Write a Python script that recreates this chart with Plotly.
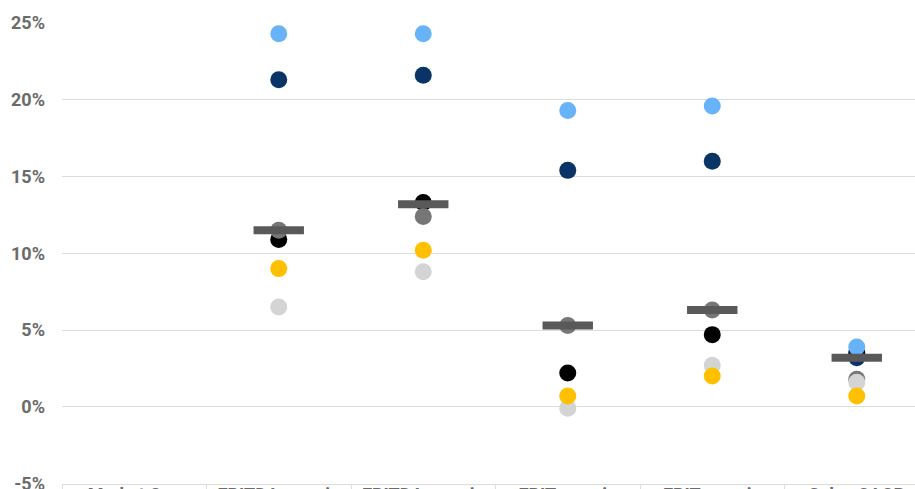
import plotly.graph_objects as go

# Metric categories along the x axis
categories = ["Market Cap", "EBITDA margin", "EBITDA margin", "EBIT margin", "EBIT margin", "Sales CAGR"]
cat_pos = [0, 1, 2, 3, 4, 5]

# Peer values per metric (%); Market Cap has no percentage values
peer_black = [None, 10.9, 13.3, 2.2, 4.7, 3.5]
peer_navy = [None, 21.3, 21.6, 15.4, 16.0, 3.2]
peer_lightblue = [None, 24.3, 24.3, 19.3, 19.6, 3.9]
peer_grey = [None, 11.5, 12.4, 5.3, 6.3, 1.8]
peer_lightgrey = [None, 6.5, 8.8, -0.1, 2.7, 1.6]
peer_gold = [None, 9.0, 10.2, 0.7, 2.0, 0.7]
median_vals = [None, 11.5, 13.2, 5.3, 6.3, 3.2]

y_ticks = [-5, 0, 5, 10, 15, 20, 25]
y_ticktext = ["-5%", "0%", "5%", "10%", "15%", "20%", "25%"]

# Drawing order: later series sit on top where dots overlap
series = [
    (peer_black, "#000000"),
    (peer_navy, "#0b3466"),
    (peer_lightblue, "#68b3f7"),
    (peer_grey, "#767676"),
    (peer_lightgrey, "#d4d4d4"),
    (peer_gold, "#ffc000"),
]

fig = go.Figure()
for vals, color in series:
    fig.add_trace(go.Scatter(
        x=cat_pos, y=vals, mode="markers",
        marker=dict(size=17, color=color, line=dict(width=0)),
        cliponaxis=False, showlegend=False, hoverinfo="y",
    ))

# Median marker drawn as a thick horizontal bar
fig.add_trace(go.Scatter(
    x=cat_pos, y=median_vals, mode="markers",
    marker=dict(symbol="line-ew", size=36, line=dict(width=8, color="#595959")),
    cliponaxis=False, showlegend=False, hoverinfo="y",
))

fig.update_layout(
    width=915, height=489,
    margin=dict(l=62, r=0, t=23, b=5),
    paper_bgcolor="white", plot_bgcolor="white",
    font=dict(family="Roboto", size=18, color="#6b6b6b"),
)
fig.update_xaxes(
    range=[-0.5, 5.403], automargin=False,
    tickmode="array", tickvals=cat_pos, ticktext=categories,
    ticks="", showgrid=False, zeroline=False, ticklabelstandoff=-6,
    ticklabeloverflow="allow",
    showline=True, linecolor="#dcdcdc", linewidth=1,
    tickfont=dict(family="Roboto", size=18, color="#6b6b6b", weight="bold"),
    minor=dict(tick0=-0.5, dtick=1, ticks="outside", ticklen=30, tickcolor="#dcdcdc", tickwidth=1, showgrid=False),
)
fig.update_yaxes(
    range=[-5.03, 25], automargin=False,
    tickmode="array", tickvals=y_ticks, ticktext=y_ticktext,
    showgrid=True, gridcolor="#dcdcdc", gridwidth=1,
    zeroline=False, ticks="", ticklabelstandoff=16,
    ticklabeloverflow="allow",
    tickfont=dict(family="Roboto", size=18, color="#6b6b6b", weight="bold"),
)

fig.write_html("out.html")
